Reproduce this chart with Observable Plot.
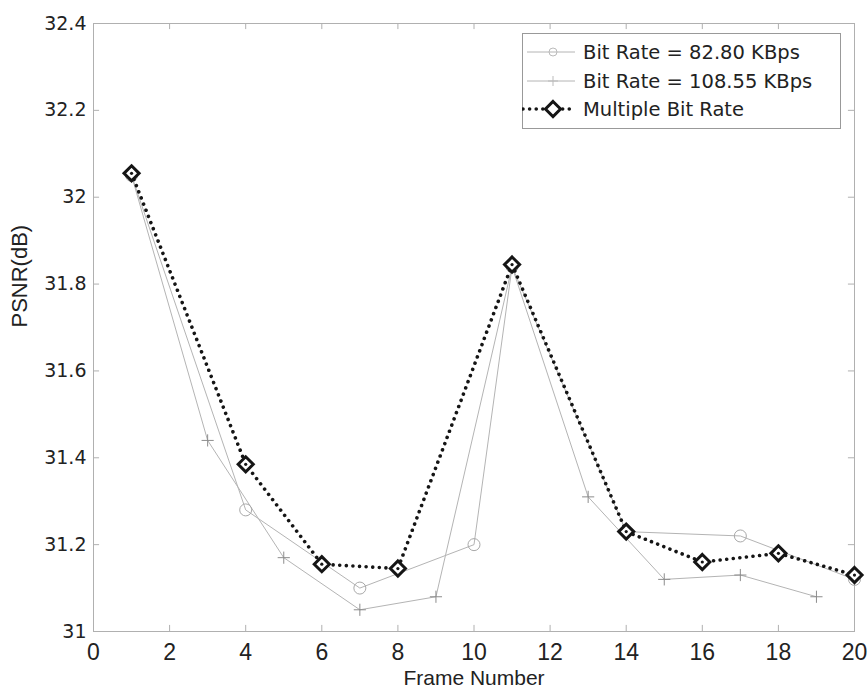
<!DOCTYPE html>
<html>
<head>
<meta charset="utf-8">
<script src="https://cdn.jsdelivr.net/npm/d3@7"></script>
<script src="https://cdn.jsdelivr.net/npm/@observablehq/plot@0.6"></script>
<style>
  body { margin: 0; background: #fff; }
  #chart { position: relative; width: 868px; height: 693px; }
  #legend { position: absolute; left: 522px; top: 33px; }
</style>
</head>
<body>
<div id="chart"></div>
<script>
// PSNR (dB) per frame for two fixed bit rates and the multiple-bit-rate scheme
const rate1Frames = [1, 4, 7, 10, 11, 14, 17, 20];
const rate1Psnr   = [32.05, 31.28, 31.10, 31.20, 31.84, 31.23, 31.22, 31.12];

const rate2Frames = [1, 3, 5, 7, 9, 11, 13, 15, 17, 19];
const rate2Psnr   = [32.05, 31.44, 31.17, 31.05, 31.08, 31.84, 31.31, 31.12, 31.13, 31.08];

const multiFrames = [1, 4, 6, 8, 11, 14, 16, 18, 20];
const multiPsnr   = [32.055, 31.385, 31.155, 31.145, 31.845, 31.23, 31.16, 31.18, 31.13];

const seriesNames = ["Bit Rate = 82.80 KBps", "Bit Rate = 108.55 KBps", "Multiple Bit Rate"];

const xTicks = [0, 2, 4, 6, 8, 10, 12, 14, 16, 18, 20];
const yTicks = [31, 31.2, 31.4, 31.6, 31.8, 32, 32.2, 32.4];
const xLabel = "Frame Number";
const yLabel = "PSNR(dB)";

const toRows = (frames, values, name) =>
  frames.map((f, i) => ({frame: f, psnr: values[i], series: name}));
const rate1 = toRows(rate1Frames, rate1Psnr, seriesNames[0]);
const rate2 = toRows(rate2Frames, rate2Psnr, seriesNames[1]);
const multi = toRows(multiFrames, multiPsnr, seriesNames[2]);

const fmt = d => String(+(+d).toFixed(1));
const faint = "#b4b4b4";
const ink = "#151515";
const axisGrey = "#b0b0b0";

const chart = Plot.plot({
  width: 868,
  height: 693,
  marginLeft: 93,
  marginRight: 14,
  marginTop: 23,
  marginBottom: 62,
  style: {background: "white", color: "#222", fontFamily: "DejaVu Sans"},
  x: {domain: [0, 20]},
  y: {domain: [31, 32.4]},
  marks: [
    Plot.frame({stroke: axisGrey}),
    // inward tick marks on all four sides
    Plot.ruleY(yTicks, {x1: 0, x2: 0.16, stroke: axisGrey}),
    Plot.ruleY(yTicks, {x1: 20, x2: 19.84, stroke: axisGrey}),
    Plot.ruleX(xTicks, {y1: 31, y2: 31.014, stroke: axisGrey}),
    Plot.ruleX(xTicks, {y1: 32.4, y2: 32.386, stroke: axisGrey}),
    Plot.axisY(yTicks, {tickSize: 0, tickPadding: 7, tickFormat: fmt, label: null,
      fontSize: 19, fontFamily: "DejaVu Sans", fill: "#222"}),
    Plot.axisX(xTicks, {tickSize: 0, tickPadding: 12, tickFormat: fmt, label: null,
      fontSize: 23, fontFamily: "'Liberation Sans Narrow', 'Liberation Sans'", fill: "#222"}),
    Plot.text([xLabel], {text: d => d, frameAnchor: "bottom", dy: 53,
      fontSize: 21, fontFamily: "Liberation Sans", fill: "#222"}),
    Plot.text([yLabel], {text: d => d, frameAnchor: "left", dx: -74, rotate: -90,
      fontSize: 22, fontFamily: "Liberation Sans", fill: "#222"}),

    // fixed bit-rate curves (thin grey)
    Plot.line(rate1, {x: "frame", y: "psnr", stroke: faint, strokeWidth: 1}),
    Plot.line(rate2, {x: "frame", y: "psnr", stroke: faint, strokeWidth: 1}),
    Plot.dot(rate1, {x: "frame", y: "psnr", symbol: "circle", r: 6, stroke: "#a8a8a8", strokeWidth: 1, fill: "none"}),
    Plot.dot(rate2, {x: "frame", y: "psnr", symbol: "plus", r: 4, stroke: "#8c8c8c", strokeWidth: 1}),

    // multiple bit-rate curve: heavy dotted line with diamond markers
    Plot.line(multi, {x: "frame", y: "psnr", stroke: ink, strokeWidth: 3.6,
      strokeDasharray: "0.01 6.6", strokeLinecap: "round"}),
    Plot.dot(multi, {x: "frame", y: "psnr", symbol: "diamond2", r: 6.8, stroke: ink, strokeWidth: 3, fill: "white"}),
    Plot.dot(multi, {x: "frame", y: "psnr", r: 1.6, fill: ink})
  ]
});

const host = document.getElementById("chart");
host.appendChild(chart);

// legend box in the upper right of the axes
const lw = 318, lh = 95;
const legend = d3.create("svg")
  .attr("id", "legend")
  .attr("width", lw + 1)
  .attr("height", lh + 1);
legend.append("rect")
  .attr("x", 0.5).attr("y", 0.5).attr("width", lw).attr("height", lh)
  .attr("fill", "white").attr("stroke", "#999");

const rowsY = [19, 48, 76];
const sx0 = 5, sx1 = 53, sm = 31;
seriesNames.forEach((name, i) => {
  const y = rowsY[i];
  const g = legend.append("g");
  if (i < 2) {
    g.append("line").attr("x1", sx0).attr("x2", sx1).attr("y1", y).attr("y2", y)
      .attr("stroke", faint).attr("stroke-width", 1);
    if (i === 0) {
      g.append("circle").attr("cx", sm).attr("cy", y).attr("r", 4)
        .attr("fill", "none").attr("stroke", "#bbb");
    } else {
      g.append("path").attr("d", `M${sm - 5},${y}H${sm + 5}M${sm},${y - 5}V${y + 5}`)
        .attr("stroke", "#bbb");
    }
  } else {
    g.append("line").attr("x1", sx0 - 4).attr("x2", sx1).attr("y1", y).attr("y2", y)
      .attr("stroke", ink).attr("stroke-width", 3.6)
      .attr("stroke-dasharray", "0.01 6.6").attr("stroke-linecap", "round");
    g.append("path").attr("d", d3.symbol(d3.symbolDiamond2, Math.PI * 6.8 * 6.8)())
      .attr("transform", `translate(${sm},${y})`)
      .attr("fill", "white").attr("stroke", ink).attr("stroke-width", 3);
  }
  g.append("text").attr("x", 61).attr("y", y + 6.5)
    .attr("font-family", "DejaVu Sans").attr("font-size", 19.5).attr("fill", "#222")
    .text(name);
});
host.appendChild(legend.node());
</script>
</body>
</html>
